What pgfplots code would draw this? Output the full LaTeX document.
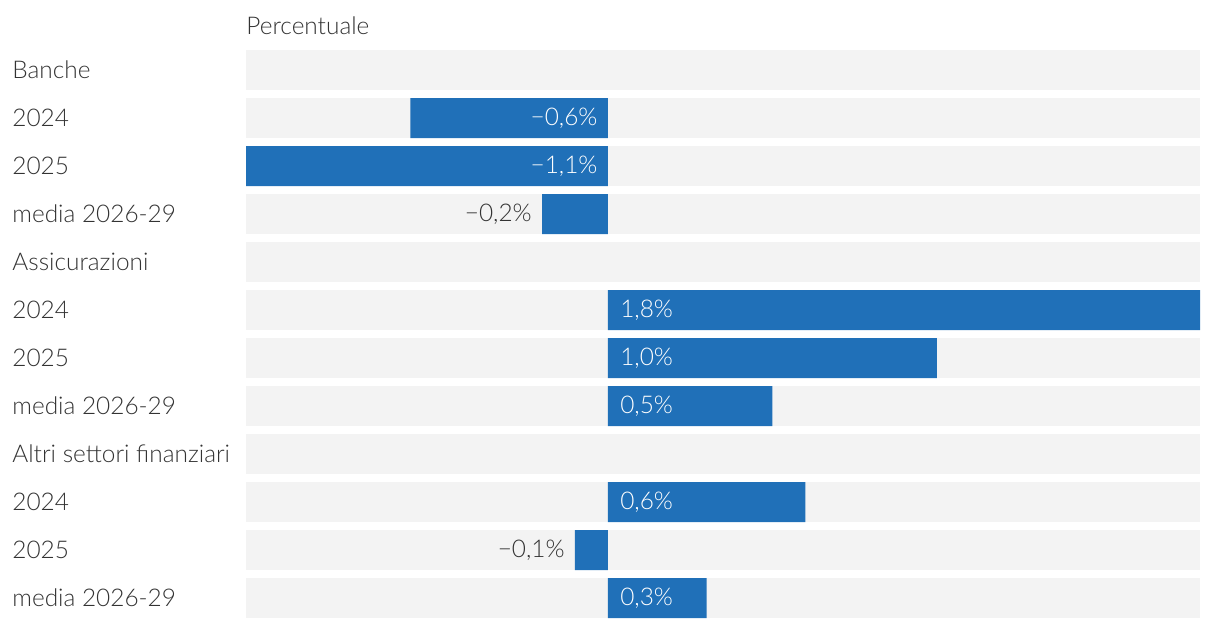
\documentclass[border=0pt]{standalone}
\usepackage{pgfplots}
\pgfplotsset{compat=1.18}
\usepackage{fontspec}
\setmainfont{Lato Light}
\definecolor{barblue}{HTML}{2070B8}
\definecolor{bandgrey}{HTML}{F3F3F3}
\definecolor{txt}{HTML}{333333}

\begin{document}
\begin{tikzpicture}
\useasboundingbox (0,0) rectangle (610pt,314pt);
\begin{axis}[
    at={(123pt,5pt)}, anchor=south west,
    scale only axis,
    width=477pt, height=284pt,
    xmin=-1.1, xmax=1.8,
    ymin=-0.4167, ymax=11.4167,
    y dir=reverse,
    axis lines=none,
    ticks=none,
    clip=false,
    xbar, bar width=20pt, bar shift=0pt,
]
% grey bands behind each row
\pgfplotsinvokeforeach{0,...,11}{
  \fill[bandgrey] (axis cs:-1.1,#1-0.4167) rectangle (axis cs:1.8,#1+0.4167);
}
% bars
\addplot[fill=barblue, draw=none] coordinates {
  (-0.6,1) (-1.1,2) (-0.2,3)
  (1.8,5) (1.0,6) (0.5,7)
  (0.6,9) (-0.1,10) (0.3,11)
};
% value labels
\begin{scope}[font=\fontsize{12.2}{14}\selectfont, inner sep=0pt]
\node[anchor=east, white] at (axis cs:0,1) [xshift=-5pt] {−0,6\%};
\node[anchor=east, white] at (axis cs:0,2) [xshift=-5pt] {−1,1\%};
\node[anchor=east, txt] at (axis cs:-0.2,3) [xshift=-5pt] {−0,2\%};
\node[anchor=west, white] at (axis cs:0,5) [xshift=6pt] {1,8\%};
\node[anchor=west, white] at (axis cs:0,6) [xshift=6pt] {1,0\%};
\node[anchor=west, white] at (axis cs:0,7) [xshift=6pt] {0,5\%};
\node[anchor=west, white] at (axis cs:0,9) [xshift=6pt] {0,6\%};
\node[anchor=east, txt] at (axis cs:-0.1,10) [xshift=-5pt] {−0,1\%};
\node[anchor=west, white] at (axis cs:0,11) [xshift=6pt] {0,3\%};
\end{scope}
\end{axis}
% row labels
\begin{scope}[font=\fontsize{12.2}{14}\selectfont, txt]
\foreach \r/\lab in {0/Banche,1/2024,2/2025,3/media 2026-29,
    4/Assicurazioni,5/2024,6/2025,7/media 2026-29,
    8/Altri settori finanziari,9/2024,10/2025,11/media 2026-29}{
  \node[anchor=west, inner sep=0pt] at (6pt,{279pt-24pt*\r}) {\lab};
}
\node[anchor=west, inner sep=0pt] at (123pt,301pt) {Percentuale};
\end{scope}
\end{tikzpicture}
\end{document}
